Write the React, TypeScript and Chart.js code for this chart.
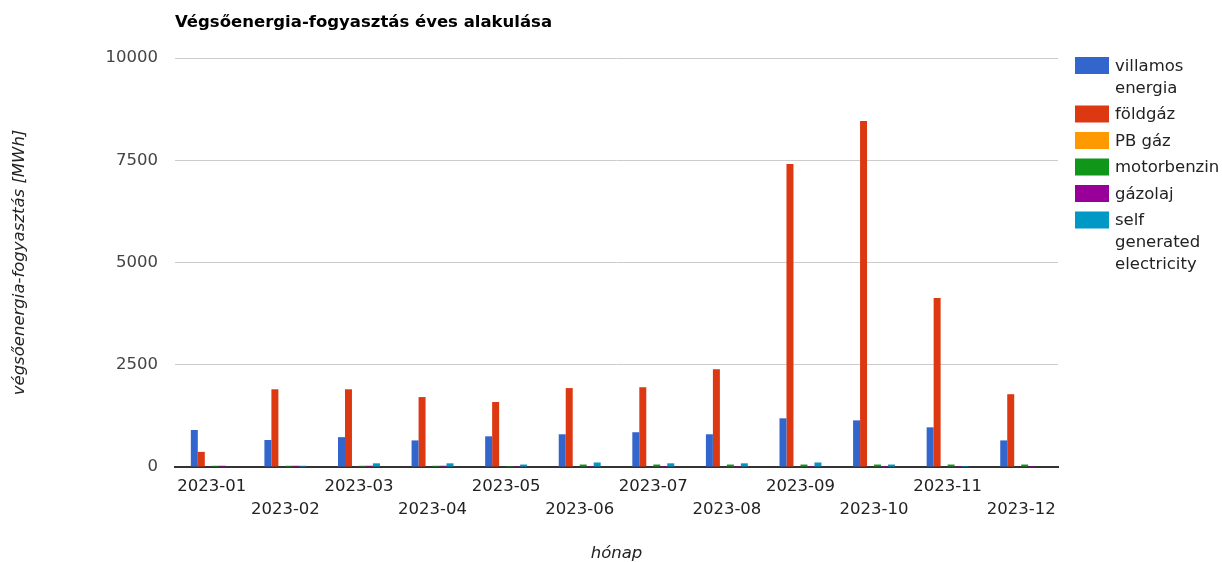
import React, { useEffect, useRef } from "react";
import { Chart, registerables } from "chart.js";

Chart.register(...registerables);

const months = ["2023-01", "2023-02", "2023-03", "2023-04", "2023-05", "2023-06", "2023-07", "2023-08", "2023-09", "2023-10", "2023-11", "2023-12"];
const villamosEnergia = [905, 660, 730, 650, 750, 800, 850, 800, 1190, 1140, 970, 650];
const foldgaz = [370, 1900, 1900, 1710, 1590, 1930, 1950, 2390, 7410, 8460, 4130, 1780];
const pbGaz = [0, 0, 0, 0, 0, 0, 0, 0, 0, 0, 0, 0];
const motorbenzin = [30, 30, 30, 30, 25, 60, 60, 60, 60, 60, 60, 60];
const gazolaj = [30, 30, 30, 30, 25, 25, 25, 25, 25, 25, 25, 25];
const selfGenerated = [0, 30, 90, 90, 60, 110, 90, 90, 110, 60, 25, 0];
const yTicks = [0, 2500, 5000, 7500, 10000];

const seriesLabels = ["villamos energia", "földgáz", "PB gáz", "motorbenzin", "gázolaj", "self generated electricity"];
const seriesColors = ["#3366cc", "#dc3912", "#ff9900", "#109618", "#990099", "#0099c6"];
const seriesValues = [villamosEnergia, foldgaz, pbGaz, motorbenzin, gazolaj, selfGenerated];

const FONT = "'DejaVu Sans', sans-serif";
const FS = 16.5;

const legendPlugin = {
  id: "customLegend",
  afterDraw(chart: any) {
    const ctx = chart.ctx;
    const boxX = 1075;
    const boxW = 34;
    const boxH = 17;
    const textX = 1115;
    const maxW = chart.width - textX;
    let top = 57;
    ctx.save();
    ctx.font = `${FS}px ${FONT}`;
    ctx.textBaseline = "middle";
    ctx.textAlign = "left";
    chart.data.datasets.forEach((ds: any) => {
      const words = String(ds.label).split(" ");
      const lines: string[] = [];
      let cur = "";
      words.forEach((w) => {
        const test = cur ? cur + " " + w : w;
        if (cur && ctx.measureText(test).width > maxW) {
          lines.push(cur);
          cur = w;
        } else cur = test;
      });
      if (cur) lines.push(cur);
      ctx.fillStyle = ds.backgroundColor;
      ctx.fillRect(boxX, top, boxW, boxH);
      ctx.fillStyle = "#222";
      lines.forEach((ln, i) => {
        ctx.fillText(ln, textX, top + boxH / 2 + 1 + i * 22);
      });
      top += 26.5 + 22 * (lines.length - 1);
    });
    ctx.restore();
  },
};

export default function App() {
  const ref = useRef<HTMLCanvasElement>(null);
  useEffect(() => {
    if (!ref.current) return;
    const chart = new Chart(ref.current, {
      type: "bar",
      data: {
        labels: months,
        datasets: seriesLabels.map((l, i) => ({
          label: l,
          data: seriesValues[i],
          backgroundColor: seriesColors[i],
          borderWidth: 0,
          barPercentage: 1,
          categoryPercentage: 0.57,
        })),
      },
      options: {
        responsive: true,
        maintainAspectRatio: false,
        animation: false,
        devicePixelRatio: 1,
        layout: { padding: { left: 0, right: 164, top: 0, bottom: 0 } },
        plugins: {
          legend: { display: false },
          tooltip: { enabled: false },
          title: {
            display: true,
            text: "Végsőenergia-fogyasztás éves alakulása",
            align: "start",
            fullSize: false,
            color: "#000",
            font: { family: FONT, size: 16.5, weight: "bold", lineHeight: 1.2 },
            padding: { top: 12.5, bottom: 25.7 },
          },
        },
        scales: {
          x: {
            grid: { display: false, drawTicks: false },
            border: { display: true, color: "#333", width: 2 },
            ticks: {
              autoSkip: false,
              maxRotation: 0,
              minRotation: 0,
              padding: 8.5,
              color: "#222",
              font: { family: FONT, size: FS, lineHeight: 1.394 },
              callback: (_v: any, i: number) => (i % 2 ? ["", months[i]] : months[i]),
            },
            title: {
              display: true,
              text: "hónap",
              color: "#222",
              font: { family: FONT, size: FS, style: "italic", lineHeight: 1.2 },
              padding: { top: 0, bottom: -2 },
            },
            afterFit: (s: any) => {
              s.height = 95;
            },
          },
          y: {
            min: 0,
            max: 10000,
            afterBuildTicks: (s: any) => {
              s.ticks = yTicks.map((v) => ({ value: v }));
            },
            grid: { color: "#cccccc", lineWidth: 1, drawTicks: false },
            border: { display: false },
            ticks: {
              padding: 17,
              color: "#444",
              font: { family: FONT, size: FS },
              callback: (v: any) => String(v),
            },
            title: {
              display: true,
              text: "végsőenergia-fogyasztás [MWh]",
              color: "#222",
              font: { family: FONT, size: FS, style: "italic", lineHeight: 1.2 },
              padding: { top: 10, bottom: 0 },
            },
            afterFit: (s: any) => {
              s.width = 175;
            },
          },
        },
      },
      plugins: [legendPlugin],
    } as any);
    return () => chart.destroy();
  }, []);
  return (
    <div style={{ position: "absolute", left: 0, top: 0, width: 1222, height: 562 }}>
      <canvas ref={ref} />
    </div>
  );
}
